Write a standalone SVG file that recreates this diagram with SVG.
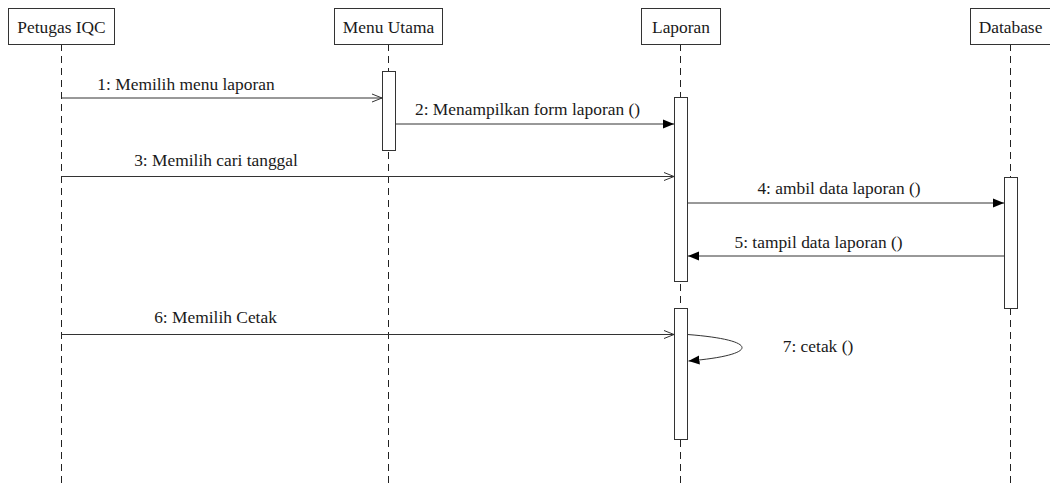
<svg xmlns="http://www.w3.org/2000/svg" width="1050" height="483" viewBox="0 0 1050 483">
  <style>
    .head { fill: #ffffff; stroke: #333333; stroke-width: 1; }
    .life { stroke: #222222; stroke-width: 1; stroke-dasharray: 7 5; fill: none; }
    .act { fill: #ffffff; stroke: #333333; stroke-width: 1; }
    .msg { stroke: #333333; stroke-width: 1; fill: none; }
    .open { marker-end: url(#openArrow); }
    .solid { marker-end: url(#solidArrow); }
    text { font-family: "Liberation Serif", "Times New Roman", Times, serif; font-size: 17.4px; fill: #1a1a1a; text-anchor: middle; }
  </style>
  <defs>
    <marker id="openArrow" markerUnits="userSpaceOnUse" markerWidth="14" markerHeight="12" refX="10" refY="5" orient="auto">
      <path d="M0,1 L10,5 L0,9" fill="none" stroke="#333333" stroke-width="1"/>
    </marker>
    <marker id="solidArrow" markerUnits="userSpaceOnUse" markerWidth="14" markerHeight="12" refX="11" refY="5" orient="auto">
      <path d="M0,0.5 L11,5 L0,9.5 Z" fill="#000000"/>
    </marker>
  </defs>

  <rect width="1050" height="483" fill="#ffffff"/>

  <!-- lifelines -->
  <g id="lifelines">
    <line class="life" x1="61.5" y1="44" x2="61.5" y2="483"/>
    <line class="life" x1="388.5" y1="44" x2="388.5" y2="483"/>
    <line class="life" x1="680.5" y1="44" x2="680.5" y2="483"/>
    <line class="life" x1="1010.5" y1="44" x2="1010.5" y2="483"/>
  </g>

  <!-- participants -->
  <g id="petugas-iqc">
    <rect class="head" x="8.5" y="8.5" width="106" height="36"/>
    <text x="61.5" y="32.5">Petugas IQC</text>
  </g>
  <g id="menu-utama">
    <rect class="head" x="334.5" y="8.5" width="108" height="36"/>
    <text x="388.5" y="32.5">Menu Utama</text>
  </g>
  <g id="laporan">
    <rect class="head" x="641.5" y="8.5" width="79" height="36"/>
    <text x="681" y="32.5">Laporan</text>
  </g>
  <g id="database">
    <rect class="head" x="970.5" y="8.5" width="80" height="36"/>
    <text x="1010.5" y="32.5">Database</text>
  </g>

  <!-- activation bars -->
  <g id="activations">
    <rect class="act" x="382.5" y="71.5" width="13" height="79"/>
    <rect class="act" x="674.5" y="97.5" width="13" height="184"/>
    <rect class="act" x="674.5" y="308.5" width="13" height="131"/>
    <rect class="act" x="1004.5" y="177.5" width="13" height="131"/>
  </g>

  <!-- messages -->
  <g id="connectors">
    <line class="msg open" x1="61.5" y1="98" x2="382" y2="98"/>
    <line class="msg solid" x1="395.5" y1="124" x2="674" y2="124"/>
    <line class="msg open" x1="61.5" y1="176.5" x2="674" y2="176.5"/>
    <line class="msg solid" x1="687.5" y1="203" x2="1004" y2="203"/>
    <line class="msg solid" x1="1004.5" y1="256" x2="688" y2="256"/>
    <line class="msg open" x1="61.5" y1="334.5" x2="674" y2="334.5"/>
    <path class="msg solid" d="M687.5,334.5 C760,340 760,355 688.5,361"/>
  </g>

  <!-- message labels -->
  <g id="labels">
    <text x="186" y="90">1: Memilih menu laporan</text>
    <text x="527.5" y="115">2: Menampilkan form laporan ()</text>
    <text x="216" y="165.5">3: Memilih cari tanggal</text>
    <text x="839" y="194">4: ambil data laporan ()</text>
    <text x="818.5" y="248">5: tampil data laporan ()</text>
    <text x="215.5" y="323">6: Memilih Cetak</text>
    <text x="818" y="352">7: cetak ()</text>
  </g>
</svg>
